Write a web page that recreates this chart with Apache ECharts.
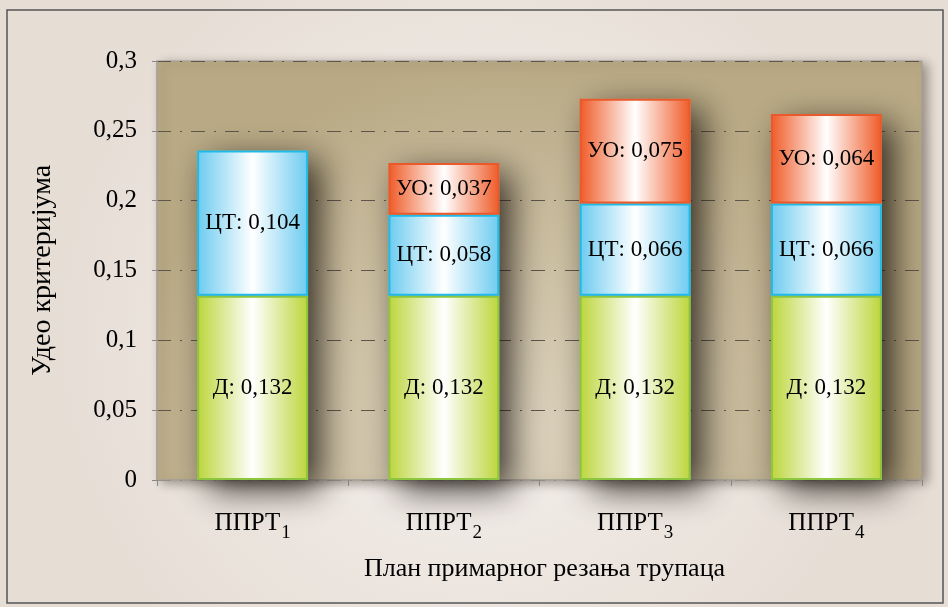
<!DOCTYPE html>
<html lang="sr">
<head>
  <meta charset="utf-8">
</head>
<body style="margin: 0">
  <div id="container" style="width: 948px; height: 607px"></div>
  <script src="https://cdn.jsdelivr.net/npm/echarts@6/dist/echarts.min.js"></script>
  <script>
    var categories = ['ППРТ1', 'ППРТ2', 'ППРТ3', 'ППРТ4'];
    var dValues = [0.132, 0.132, 0.132, 0.132];
    var ctValues = [0.104, 0.058, 0.066, 0.066];
    var uoValues = [null, 0.037, 0.075, 0.064];
    var yTicks = [0, 0.05, 0.1, 0.15, 0.2, 0.25, 0.3];

    var totals = categories.map(function (c, i) {
      return dValues[i] + ctValues[i] + (uoValues[i] || 0);
    });

    function comma(v) {
      return String(v).replace('.', ',');
    }

    function grad(edge, mid) {
      return {
        type: 'linear', x: 0, y: 0, x2: 1, y2: 0,
        colorStops: [
          { offset: 0, color: edge },
          { offset: 0.5, color: mid },
          { offset: 1, color: edge }
        ]
      };
    }

    var labelStyle = {
      show: true,
      position: 'inside',
      fontFamily: 'Liberation Serif',
      fontSize: 23,
      color: '#000',
      formatter: function (p) {
        return p.value == null ? '' : p.seriesName + ': ' + comma(p.value);
      }
    };

    var myChart = echarts.init(document.getElementById('container'), null, { renderer: 'canvas' });

    var option = {
      backgroundColor: {
        type: 'radial', x: 0.5, y: 0.55, r: 0.7,
        colorStops: [
          { offset: 0, color: '#f6f3ef' },
          { offset: 1, color: '#e6ddd5' }
        ]
      },
      animation: false,
      textStyle: { fontFamily: 'Liberation Serif' },
      graphic: [{
        type: 'rect',
        shape: { x: 7, y: 10, width: 936, height: 593 },
        style: { fill: 'none', stroke: '#555', lineWidth: 1.5 },
        z: 100
      }],
      grid: {
        left: 157, top: 61, right: 26, bottom: 127,
        show: true,
        borderColor: '#a39d94',
        borderWidth: 1,
        backgroundColor: {
          type: 'radial', x: 0.45, y: 0.9, r: 0.9,
          colorStops: [
            { offset: 0, color: '#ddd3bf' },
            { offset: 1, color: '#b9aa85' }
          ]
        },
        shadowColor: 'rgba(60,50,40,0.45)',
        shadowBlur: 10,
        shadowOffsetX: 5,
        shadowOffsetY: 3
      },
      xAxis: {
        type: 'category',
        data: categories,
        name: 'План примарног резања трупаца',
        nameLocation: 'middle',
        nameGap: 76,
        nameTextStyle: { fontFamily: 'Liberation Serif', fontSize: 26, color: '#000', padding: [0, 0, 0, 10] },
        axisLine: { lineStyle: { color: '#a8a29a', width: 1.5 } },
        axisTick: { show: true, length: 6, lineStyle: { color: '#888' } },
        axisLabel: {
          margin: 24,
          formatter: function (v) {
            return '{a|' + v.slice(0, 4) + '}{b|' + v.slice(4) + '}';
          },
          rich: {
            a: { fontFamily: 'Liberation Serif', fontSize: 25, color: '#000' },
            b: { fontFamily: 'Liberation Serif', fontSize: 19, color: '#000', padding: [20, 0, 0, 1] }
          }
        }
      },
      yAxis: {
        type: 'value',
        min: 0,
        max: 0.3,
        interval: 0.05,
        name: 'Удео критеријума',
        nameLocation: 'middle',
        nameGap: 100,
        nameRotate: 90,
        nameTextStyle: { fontFamily: 'Liberation Serif', fontSize: 28, color: '#000' },
        axisLine: { show: true, lineStyle: { color: '#a8a29a', width: 1.5 } },
        axisTick: { show: true, length: 5, lineStyle: { color: '#888' } },
        axisLabel: {
          margin: 20,
          fontFamily: 'Liberation Serif',
          fontSize: 25,
          color: '#000',
          formatter: function (v) {
            var t = yTicks.find(function (x) { return Math.abs(x - v) < 1e-9; });
            return comma(t != null ? t : v);
          }
        },
        splitLine: {
          show: true,
          lineStyle: { color: '#5e564b', width: 1, type: [14, 9, 2, 9] }
        }
      },
      series: [
        {
          name: 'shadow',
          type: 'bar',
          data: totals,
          barWidth: '58%',
          barGap: '-100%',
          silent: true,
          z: 1,
          itemStyle: {
            color: '#b9aa85',
            shadowColor: 'rgba(20,15,10,0.8)',
            shadowBlur: 32,
            shadowOffsetX: 12,
            shadowOffsetY: 10
          }
        },
        {
          name: 'Д',
          type: 'bar',
          stack: 'total',
          data: dValues,
          barWidth: '58%',
          z: 3,
          itemStyle: { color: grad('#bcd53a', '#ffffff'), borderColor: '#8cc63e', borderWidth: 2 },
          label: labelStyle
        },
        {
          name: 'ЦТ',
          type: 'bar',
          stack: 'total',
          data: ctValues,
          barWidth: '58%',
          z: 3,
          itemStyle: { color: grad('#6ccbf0', '#ffffff'), borderColor: '#1fbbe8', borderWidth: 2 },
          label: labelStyle
        },
        {
          name: 'УО',
          type: 'bar',
          stack: 'total',
          data: uoValues,
          barWidth: '58%',
          z: 3,
          itemStyle: { color: grad('#ef5a27', '#ffffff'), borderColor: '#e9592c', borderWidth: 2 },
          label: labelStyle
        }
      ]
    };

    myChart.setOption(option);
    window.addEventListener('resize', myChart.resize);
  </script>
</body>
</html>
